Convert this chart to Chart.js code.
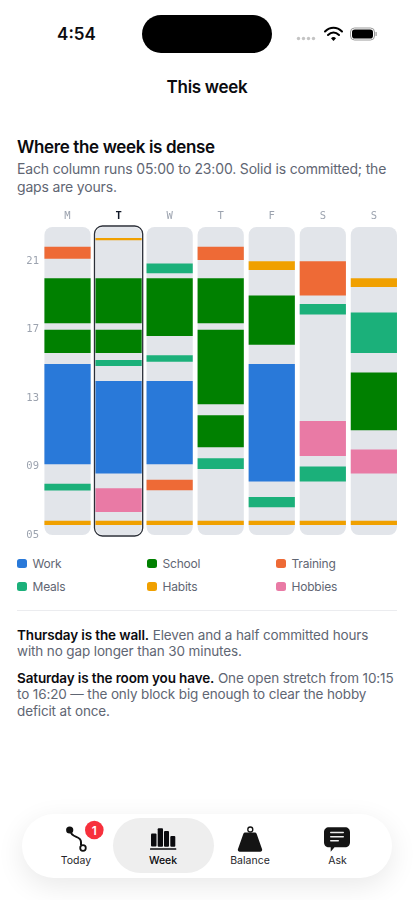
<!DOCTYPE html>
<html><head><meta charset="utf-8">
<script src="https://cdn.jsdelivr.net/npm/chart.js@4"></script>
<style>
html,body{margin:0;padding:0;background:#fff;width:414px;height:900px;overflow:hidden;font-family:Inter,"Noto Sans",sans-serif;color:#0b0b0f}
.a{position:absolute;white-space:nowrap}
#wrap{position:absolute;left:0;top:200px;width:414px;height:346px}
.sw{position:absolute;width:9.5px;height:9px;border-radius:2.5px}
.lg{position:absolute;font-size:12px;letter-spacing:-.2px;line-height:16px;color:#5f6673;white-space:nowrap}
.tab{position:absolute;font-size:10.5px;font-weight:400;line-height:14px;text-align:center;width:80px;color:#26262a;top:854px}
</style></head><body>
<div class="a" style="left:36.500px;width:80px;text-align:center;top:23px;font-size:17px;font-weight:600;line-height:22px">4:54</div>
<div class="a" style="left:142px;top:14.500px;width:130px;height:38px;border-radius:19px;background:#000"></div>
<svg class="a" style="left:290px;top:20px" width="100" height="26" viewBox="0 0 100 26">
<g fill="#c4c4c4"><circle cx="8.500" cy="18.500" r="1.700"/><circle cx="13.500" cy="18.500" r="1.700"/><circle cx="18.500" cy="18.500" r="1.700"/><circle cx="23.500" cy="18.500" r="1.700"/></g>
<g fill="none" stroke="#000" stroke-width="2" stroke-linecap="round"><path d="M35 11.500c5-5 12-5 17 0"/><path d="M38 15c3.300-3.200 7.700-3.200 11 0"/></g><path d="M41 18.200c1.600-1.500 3.400-1.500 5 0l-2.500 2.800z" fill="#000"/>
<rect x="60.500" y="8" width="24" height="12" rx="4" fill="none" stroke="#9a9a9a" stroke-width="1"/><rect x="62" y="9.500" width="21" height="9" rx="2.800" fill="#000"/><rect x="85.500" y="12" width="1.200" height="4" rx=".6" fill="#9a9a9a"/>
</svg>
<div class="a" style="left:0;width:414px;text-align:center;top:76px;font-size:17px;letter-spacing:-.3px;font-weight:600;line-height:22px">This week</div>
<div class="a" style="left:17px;top:136px;font-size:17px;letter-spacing:-.36px;font-weight:600;line-height:22px">Where the week is dense</div>
<div class="a" style="left:17px;top:159.500px;font-size:14px;letter-spacing:-.17px;line-height:18.300px;color:#5f6673">Each column runs 05:00 to 23:00. Solid is committed; the<br>gaps are yours.</div>
<div id="wrap"><canvas id="c" width="414" height="346"></canvas></div>
<div id="legend"></div>
<div class="a" style="left:17px;top:609.500px;width:380px;height:1.200px;background:#ebecef"></div>
<div class="a" style="left:17px;top:626.500px;font-size:13.500px;letter-spacing:-.13px;line-height:16.300px;color:#5f6673"><b style="font-weight:600;color:#0b0b0f">Thursday is the wall.</b> Eleven and a half committed hours<br>with no gap longer than 30 minutes.</div>
<div class="a" style="left:17px;top:670px;font-size:13.500px;letter-spacing:-.13px;line-height:16.300px;color:#5f6673"><b style="font-weight:600;color:#0b0b0f">Saturday is the room you have.</b> One open stretch from 10:15<br>to 16:20 — the only block big enough to clear the hobby<br>deficit at once.</div>
<div class="a" style="left:22px;top:814px;width:370px;height:64px;border-radius:32px;background:#fff;box-shadow:0 8px 28px rgba(0,0,0,.09)"></div>
<div class="a" style="left:113px;top:818px;width:101px;height:55px;border-radius:27.500px;background:#eeeeee"></div>
<svg class="a" style="left:0;top:800px" width="414" height="60" viewBox="0 800 414 60">
<path d="M70 830c1 9 11 5 11 12v3" fill="none" stroke="#111" stroke-width="2"/>
<circle cx="69.700" cy="830" r="3.600" fill="#111"/><circle cx="83" cy="848" r="2.800" fill="none" stroke="#111" stroke-width="1.800"/>
<circle cx="94.300" cy="830" r="9.300" fill="#f7303c"/>
<text x="94.300" y="834.500" text-anchor="middle" font-family="Inter" font-size="12" font-weight="600" fill="#fff">1</text>
<g fill="#0a0a0e"><rect x="151" y="833.500" width="5.500" height="13" rx="1"/><rect x="157.700" y="828.300" width="5.300" height="18.400" rx="1"/><rect x="164" y="831" width="5" height="15.700" rx="1"/><rect x="170.300" y="836" width="5" height="10.700" rx="1"/><rect x="150" y="848.300" width="26.300" height="1.500" rx=".5"/>
<circle cx="250.300" cy="829.500" r="2.500" fill="none" stroke="#111" stroke-width="1.300"/>
<path d="M246 832.500h8.500c1.300 0 2 .7 2.300 1.700l5.300 15c.3 1.400-.3 2.500-1.800 2.500h-20.600c-1.500 0-2.100-1.100-1.800-2.500l5.300-15c.3-1 1-1.700 2.300-1.700z" fill="#141414"/>
<path d="M329 827.300h16c3 0 5 2 5 5v10c0 3-2 5-5 5h-10.500l-3.800 4.400v-4.400h-1.700c-3 0-5-2-5-5v-10c0-3 2-5 5-5z" fill="#141414"/></g>
<g fill="#eee"><rect x="330" y="831.800" width="14" height="1.500" rx=".7"/><rect x="330" y="836" width="14" height="1.500" rx=".7"/><rect x="330" y="840" width="9" height="1.500" rx=".7"/></g>
</svg>
<div class="tab" style="left:36px">Today</div>
<div class="tab" style="left:123px;font-weight:500;color:#0b0b0f">Week</div>
<div class="tab" style="left:210px">Balance</div>
<div class="tab" style="left:297.500px">Ask</div>
<script>
const days=['M','T','W','T','F','S','S'];
const hourTicks=[5,9,13,17,21];
const dayStart=5,dayEnd=23;
const selectedDay=1;
const categories=['Work','School','Training','Meals','Habits','Hobbies'];
const colors=['#2979d9','#008000','#ee6a36','#1bb07a','#f0a000','#e97aa5'];
const workBlocks=[[[9.13,15]],[[8.6,14]],[[9.13,14]],[],[[8.12,15]],[],[]];
const schoolBlocks=[[[15.64,17],[17.37,20]],[[15.64,17],[17.37,20]],[[16.63,20]],[[10.13,12],[12.64,17],[17.37,20]],[[16.12,19]],[],[[11.12,14.49]]];
const trainingBlocks=[[[21.15,21.85]],[],[[7.61,8.23]],[[21.07,21.85]],[],[[19,21]],[]];
const mealsBlocks=[[[7.6,8]],[[14.88,15.23]],[[15.13,15.5],[20.3,20.86]],[[8.86,9.48]],[[6.62,7.22]],[[8.12,9],[17.88,18.5]],[[15.64,18]]];
const habitsBlocks=[[[5.58,5.83]],[[5.58,5.83],[22.22,22.36]],[[5.58,5.83]],[[5.58,5.83]],[[5.58,5.83],[20.49,21]],[[5.58,5.83]],[[5.58,5.83],[19.5,20]]];
const hobbiesBlocks=[[],[[6.34,7.73]],[],[],[],[[9.62,11.66]],[[8.6,10]]];
const allBlocks=[workBlocks,schoolBlocks,trainingBlocks,mealsBlocks,habitsBlocks,hobbiesBlocks];

const datasets=[{label:'track',data:days.map(()=>[dayStart,dayEnd]),backgroundColor:'#e2e5ea',borderRadius:8,borderSkipped:false,borderWidth:0,order:10,grouped:false,barPercentage:.905,categoryPercentage:1}];
allBlocks.forEach((blocks,ci)=>{
  const n=Math.max(...blocks.map(b=>b.length));
  for(let k=0;k<n;k++){
    datasets.push({label:categories[ci],data:blocks.map(b=>b[k]||null),backgroundColor:colors[ci],borderWidth:0,borderSkipped:false,order:1,grouped:false,barPercentage:.905,categoryPercentage:1});
  }
});
const outline={id:'outline',afterDatasetsDraw(ch){
  const el=ch.getDatasetMeta(0).data[selectedDay];
  const c=ch.ctx,w=el.width,x=el.x-w/2-1,top=ch.scales.y.getPixelForValue(dayEnd)-1,bot=ch.scales.y.getPixelForValue(dayStart)+1;
  c.save();c.strokeStyle='#2b2f38';c.lineWidth=1.3;c.beginPath();c.roundRect(x,top,w+2,bot-top,8);c.stroke();c.restore();
}};
new Chart(document.getElementById('c'),{type:'bar',data:{labels:days,datasets},plugins:[outline],options:{
  responsive:false,animation:false,events:[],
  layout:{padding:{left:0,right:14.6,top:0,bottom:11}},
  plugins:{legend:{display:false},tooltip:{enabled:false},title:{display:false}},
  scales:{
    x:{position:'top',grid:{display:false,drawTicks:false},border:{display:false},afterFit(s){s.height=27;},
       ticks:{maxRotation:0,autoSkip:false,padding:4,font:ctx=>({family:'"DejaVu Sans Mono"',size:10.5,weight:ctx.index===selectedDay?'bold':'normal'}),color:ctx=>ctx.index===selectedDay?'#111827':'#9ca3af'}},
    y:{min:dayStart,max:dayEnd,afterBuildTicks(s){s.ticks=hourTicks.map(v=>({value:v}));},afterFit(s){s.width=42;},grid:{display:false,drawTicks:false},border:{display:false},
       ticks:{padding:3,font:{family:'"DejaVu Sans Mono"',size:10.5},color:'#9ca3af',callback:v=>String(v).padStart(2,'0')}}
  }}});
const xs=[17,147,276],ys=[559.3,582];
const lg=document.getElementById('legend');
categories.forEach((n,i)=>{
  const x=xs[i%3],y=ys[Math.floor(i/3)];
  lg.insertAdjacentHTML('beforeend',`<div class="sw" style="left:${x}px;top:${y}px;background:${colors[i]}"></div><div class="lg" style="left:${x+15.5}px;top:${y-3.5}px">${n}</div>`);
});
</script>
</body></html>
